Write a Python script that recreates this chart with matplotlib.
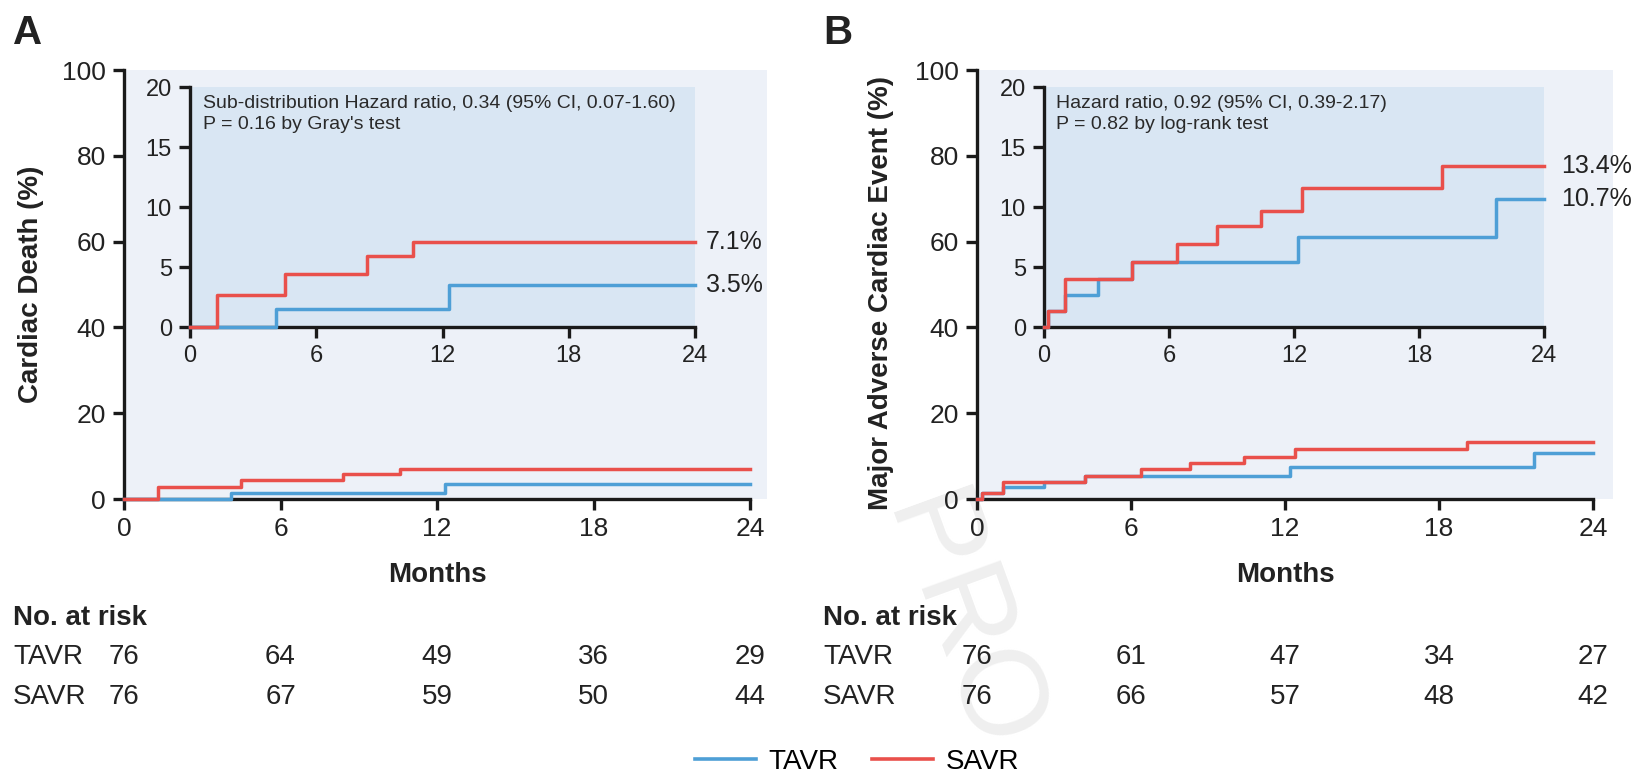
import numpy as np
import matplotlib
matplotlib.use("Agg")
import matplotlib.pyplot as plt
import matplotlib.transforms as mtransforms
from matplotlib.lines import Line2D

plt.rcParams['font.family'] = ['Liberation Sans', 'DejaVu Sans']

# cumulative incidence, panel A (cardiac death)
a_tavr_t = [0, 4.1, 12.3, 24]
a_tavr_y = [0, 1.5, 3.5, 3.5]
a_savr_t = [0, 1.3, 4.5, 8.4, 10.6, 24]
a_savr_y = [0, 2.7, 4.4, 5.9, 7.1, 7.1]

# panel B (major adverse cardiac event)
b_tavr_t = [0, 0.2, 1.0, 2.6, 4.2, 12.2, 21.7, 24]
b_tavr_y = [0, 1.3, 2.7, 4.0, 5.4, 7.5, 10.7, 10.7]
b_savr_t = [0, 0.2, 1.0, 4.2, 6.4, 8.3, 10.4, 12.4, 19.1, 24]
b_savr_y = [0, 1.3, 4.0, 5.4, 6.9, 8.4, 9.7, 11.6, 13.4, 13.4]

risk_times = [0, 6, 12, 18, 24]
a_risk_tavr = [76, 64, 49, 36, 29]
a_risk_savr = [76, 67, 59, 50, 44]
b_risk_tavr = [76, 61, 47, 34, 27]
b_risk_savr = [76, 66, 57, 48, 42]

a_note = "Sub-distribution Hazard ratio, 0.34 (95% CI, 0.07-1.60)\nP = 0.16 by Gray's test"
b_note = "Hazard ratio, 0.92 (95% CI, 0.39-2.17)\nP = 0.82 by log-rank test"

BLUE = '#4e9fd6'
RED = '#e9504b'
BG_MAIN = '#edf1f8'
BG_INSET = '#d9e6f3'
INK = '#222222'

W, H = 1648, 776
fig = plt.figure(figsize=(W / 100, H / 100), dpi=100)


def px(x0, y_top, w, h):
    # axes rect from pixel box (top-left origin)
    return [x0 / W, 1 - (y_top + h) / H, w / W, h / H]


def style_axes(ax, xmax, ymax, yticks, tsize, lw=2.4):
    for s in ['top', 'right']:
        ax.spines[s].set_visible(False)
    for s in ['left', 'bottom']:
        ax.spines[s].set_linewidth(lw)
        ax.spines[s].set_color('#1a1a1a')
    ax.spines['bottom'].set_bounds(0, 24)
    ax.spines['left'].set_bounds(0, ymax)
    ax.set_xlim(0, xmax)
    ax.set_ylim(0, ymax)
    ax.set_xticks(risk_times)
    ax.set_yticks(yticks)
    ax.tick_params(direction='out', length=8, width=lw, labelsize=tsize,
                   colors='#1a1a1a', labelcolor=INK, pad=5)


def draw_panel(letter, main_rect, inset_rect, xmax, ylabel, ylabel_xy,
               tavr, savr, note, pct_offset, risk_tavr, risk_savr, label_x):
    ax = fig.add_axes(main_rect)
    ax.set_facecolor('none')
    ax.add_patch(plt.Rectangle((0, 0), xmax, 100, facecolor=BG_MAIN,
                               edgecolor='none', zorder=0))
    style_axes(ax, xmax, 100, [0, 20, 40, 60, 80, 100], 19)
    ax.step(tavr[0], tavr[1], where='post', color=BLUE, lw=2.5, clip_on=False, zorder=3)
    ax.step(savr[0], savr[1], where='post', color=RED, lw=2.5, clip_on=False, zorder=3)

    ins = fig.add_axes(inset_rect)
    ins.set_facecolor(BG_INSET)
    style_axes(ins, 24, 20, [0, 5, 10, 15, 20], 17)
    ins.step(tavr[0], tavr[1], where='post', color=BLUE, lw=2.5, clip_on=False, zorder=3)
    ins.step(savr[0], savr[1], where='post', color=RED, lw=2.5, clip_on=False, zorder=3)
    ins.text(0.6, 19.3, note, fontsize=14, va='top', ha='left', color='#2a2a2a',
             linespacing=1.25)
    for series in (tavr, savr):
        end = series[1][-1]
        ins.annotate(f"{end:.1f}%", (24, end), xytext=(pct_offset, 0),
                     textcoords='offset points', va='center', ha='left',
                     fontsize=18, color=INK, annotation_clip=False)

    fig.text(ylabel_xy[0] / W, 1 - ylabel_xy[1] / H, ylabel, rotation=90,
             ha='center', va='center', fontsize=20, fontweight='bold', color=INK)
    fig.text(label_x / W, 1 - 33 / H, letter, ha='left', va='center',
             fontsize=29, fontweight='bold', color=INK)

    # months label and numbers at risk, x in data units, y in figure pixels
    trans = mtransforms.blended_transform_factory(ax.transData, fig.transFigure)
    ax.text(12, 1 - 575 / H, 'Months', transform=trans, ha='center', va='center',
            fontsize=20, fontweight='bold', color=INK)
    rows = [('TAVR', risk_tavr, 657), ('SAVR', risk_savr, 697)]
    for name, counts, ypx in rows:
        fig.text(label_x / W, 1 - ypx / H, name, ha='left', va='center',
                 fontsize=20, color=INK)
        for t, n in zip(risk_times, counts):
            ax.text(t, 1 - ypx / H, str(n), transform=trans, ha='center',
                    va='center', fontsize=20, color=INK)
    fig.text(label_x / W, 1 - 618 / H, 'No. at risk', ha='left', va='center',
             fontsize=20, fontweight='bold', color=INK)
    return ax


# faint watermark behind the right panel
fig.text(958 / W, 1 - 625 / H, 'PRO', rotation=-70, ha='center', va='center',
         fontsize=88, color='#efefef', zorder=-5)

draw_panel('A', px(124, 70, 643, 429), px(190, 87, 505, 240), 24 * 643 / 626,
           'Cardiac Death (%)', (31, 284),
           (a_tavr_t, a_tavr_y), (a_savr_t, a_savr_y), a_note, 8,
           a_risk_tavr, a_risk_savr, 13)
draw_panel('B', px(977, 70, 636, 429), px(1044, 87, 500, 240), 24 * 636 / 616,
           'Major Adverse Cardiac Event (%)', (881, 293),
           (b_tavr_t, b_tavr_y), (b_savr_t, b_savr_y), b_note, 12,
           b_risk_tavr, b_risk_savr, 823)

handles = [Line2D([], [], color=BLUE, lw=2.6), Line2D([], [], color=RED, lw=2.6)]
fig.legend(handles, ['TAVR', 'SAVR'], loc='center', bbox_to_anchor=(857 / W, 1 - 762 / H),
           ncol=2, frameon=False, fontsize=20, handlelength=2.2, handletextpad=0.45,
           columnspacing=1.2)

fig.savefig('out.png', dpi=100, facecolor='white')
